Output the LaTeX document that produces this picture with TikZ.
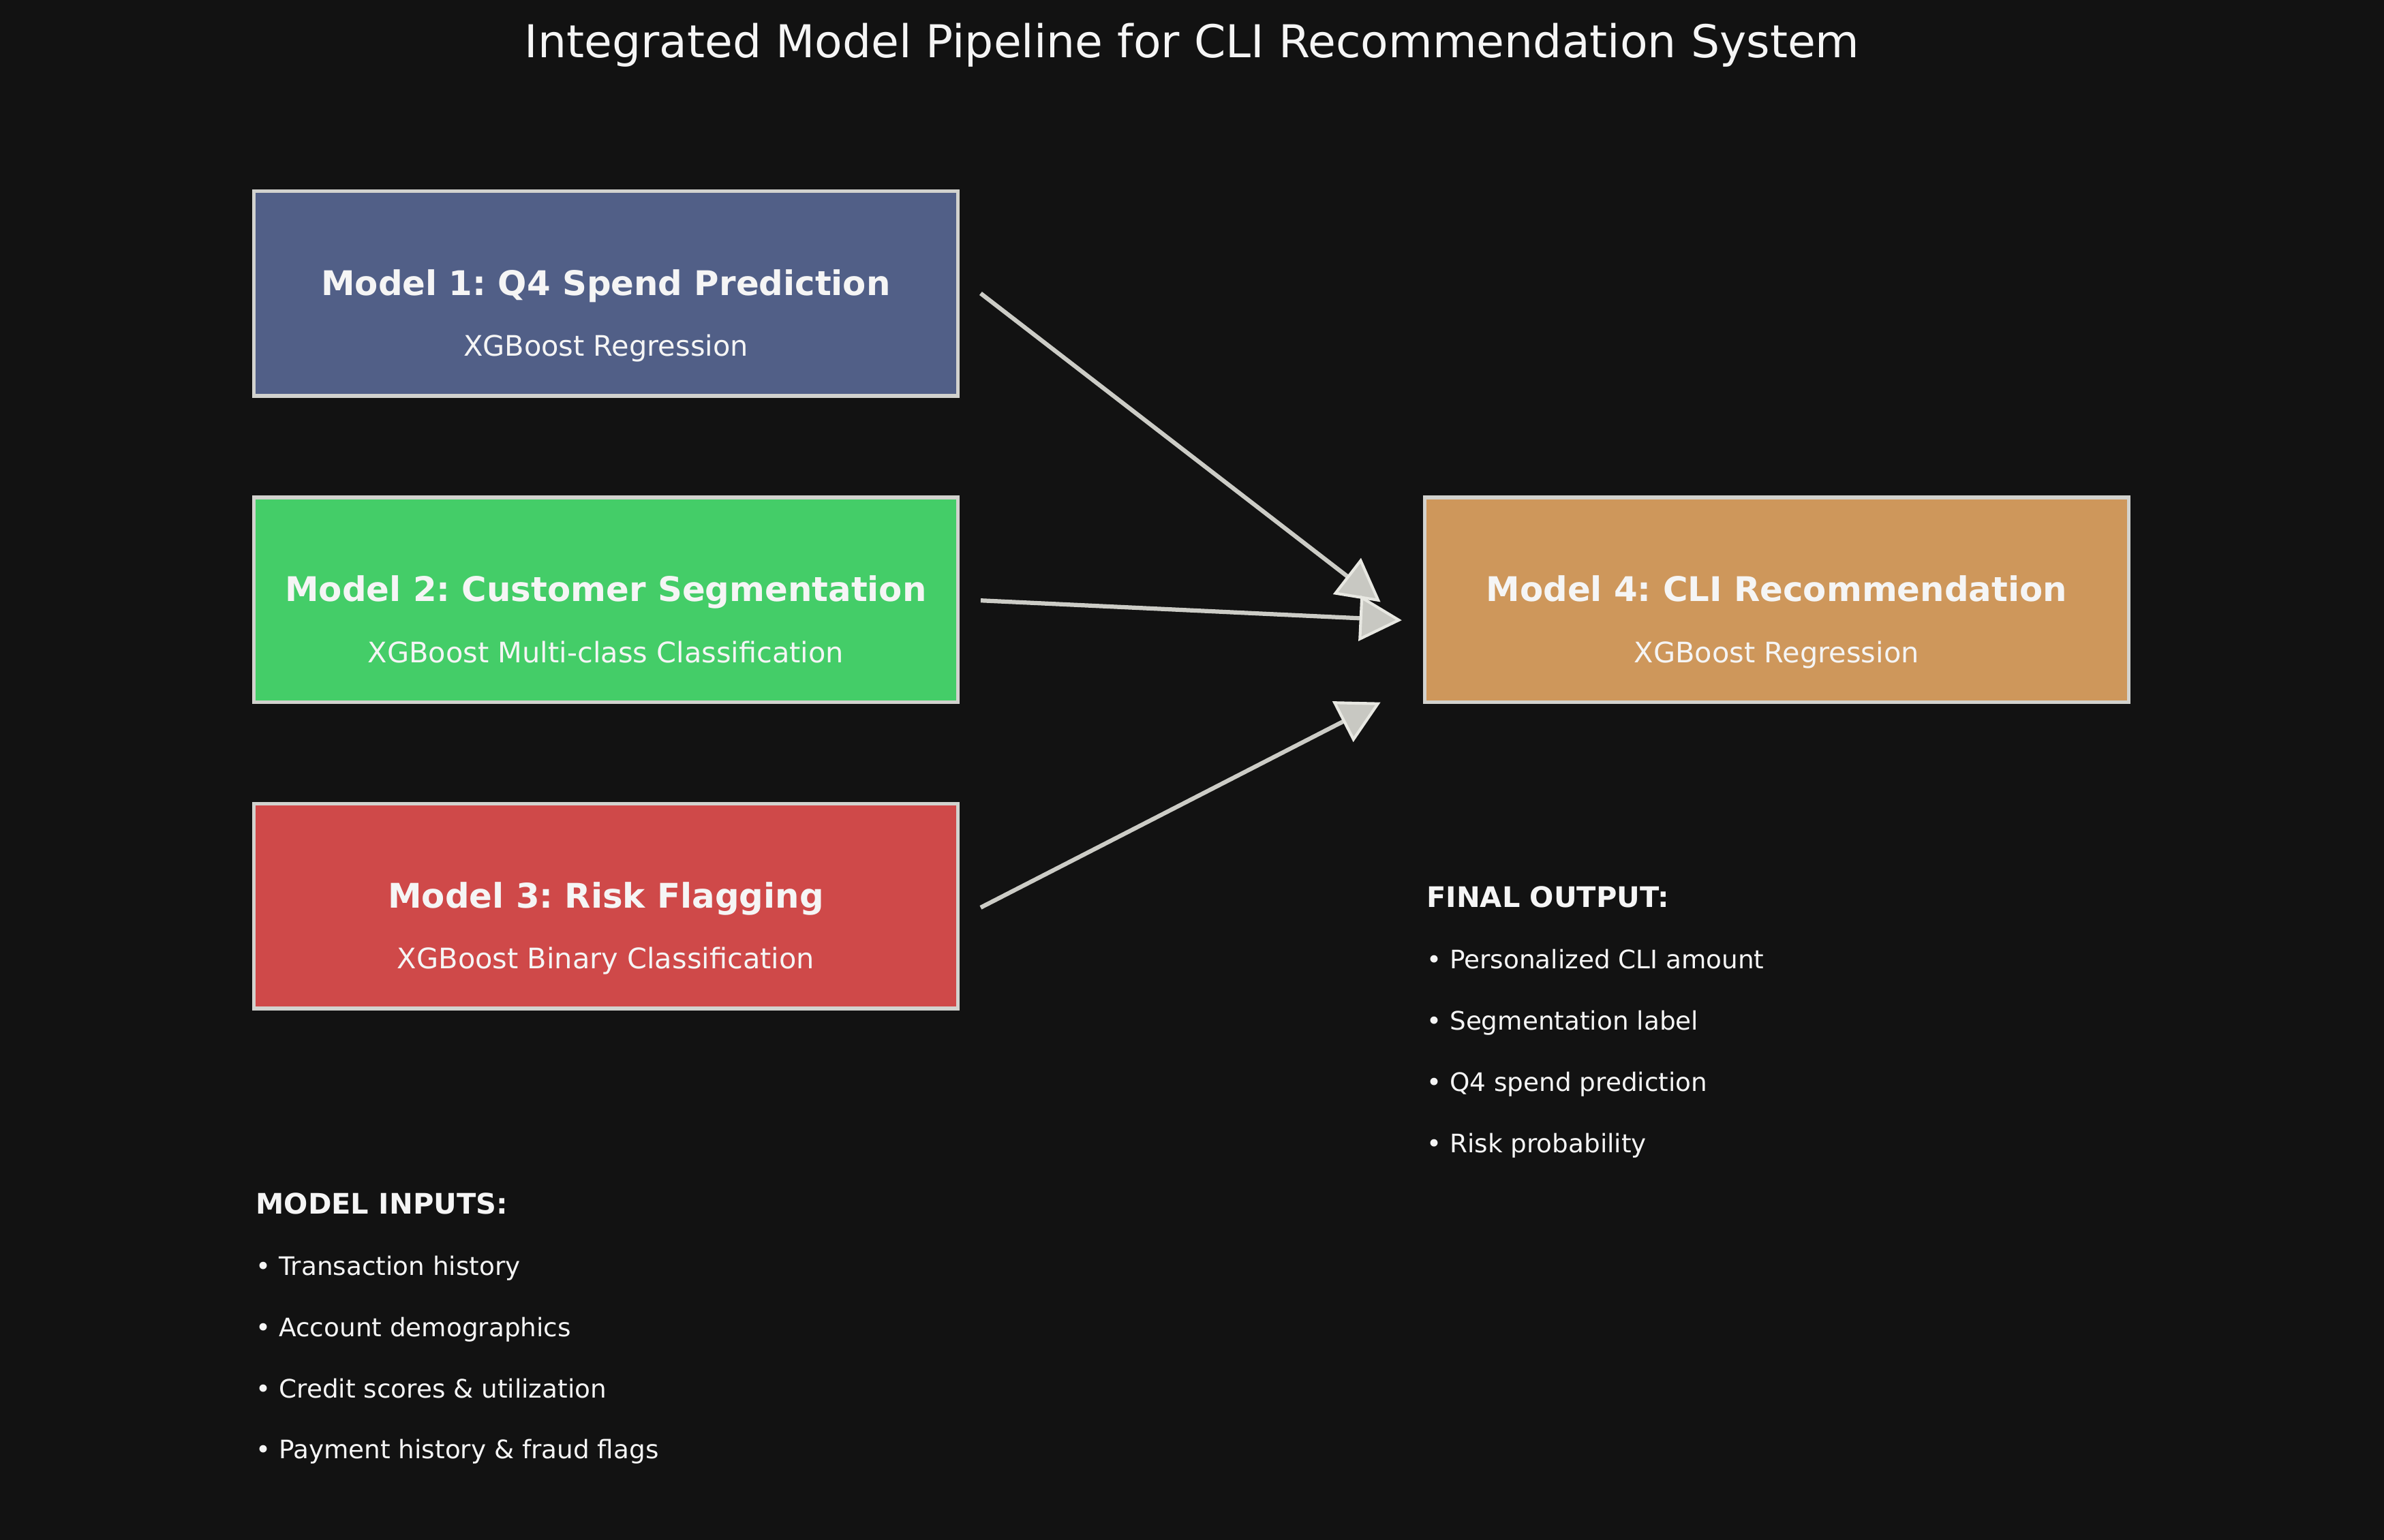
\documentclass[tikz,border=0pt]{standalone}
\usepackage{fontspec}
\setmainfont{DejaVu Sans}
\usetikzlibrary{arrows.meta}
\definecolor{bg}{RGB}{18,18,18}
\definecolor{cA}{RGB}{81,95,135}
\definecolor{cB}{RGB}{68,205,104}
\definecolor{cC}{RGB}{207,73,73}
\definecolor{cD}{RGB}{206,151,91}
\definecolor{edge}{RGB}{210,210,206}
\definecolor{txt}{RGB}{245,245,245}
\definecolor{arr}{RGB}{204,204,198}
\definecolor{headfill}{RGB}{200,200,194}
\definecolor{headedge}{RGB}{232,232,226}
\frenchspacing
\begin{document}
\begin{tikzpicture}[x=0.5375pt,y=-0.5375pt,
  modelbox/.style={draw=edge,line width=1.3pt,minimum width=248.9pt,minimum height=72.4pt,inner sep=0pt},
  boxtitle/.style={text=txt,font=\fontsize{12}{14}\selectfont\bfseries,inner sep=0pt,text height=9.1pt,text depth=2.9pt},
  boxsub/.style={text=txt,font=\fontsize{10}{12}\selectfont,inner sep=0pt,text height=7.6pt,text depth=2.4pt},
  listhead/.style={text=txt,font=\fontsize{10}{12}\selectfont\bfseries,anchor=west,inner sep=0pt,text height=7.6pt,text depth=2.4pt},
  listitem/.style={text=txt,font=\fontsize{9}{11}\selectfont,anchor=west,inner sep=0pt,text height=6.8pt,text depth=2.2pt},
  flow/.style={draw=arr,line width=1.5pt,-{Triangle[length=15pt,width=16pt,fill=headfill,color=headedge,line width=1pt]}}]
\fill[bg] (0,0) rectangle (1568,1013);
\useasboundingbox (0,0) rectangle (1568,1013);

\node[text=txt,font=\fontsize{16}{19}\selectfont,inner sep=0pt,text height=12.2pt,text depth=3.8pt] (title) at (784,30) {Integrated Model Pipeline for CLI Recommendation System};

\node[modelbox,fill=cA] (m1) at (398.5,193) {};
\node[modelbox,fill=cB] (m2) at (398.5,394.5) {};
\node[modelbox,fill=cC] (m3) at (398.5,596) {};
\node[modelbox,fill=cD] (m4) at (1168.5,394.5) {};

\node[boxtitle] (m1t) at (398.5,188.5) {Model 1: Q4 Spend Prediction};
\node[boxsub] (m1s) at (398.5,229.5) {XGBoost Regression};
\node[boxtitle] (m2t) at (398.5,390) {Model 2: Customer Segmentation};
\node[boxsub] (m2s) at (398.5,431) {XGBoost Multi-class Classification};
\node[boxtitle] (m3t) at (398.5,591.5) {Model 3: Risk Flagging};
\node[boxsub] (m3s) at (398.5,632.5) {XGBoost Binary Classification};
\node[boxtitle] (m4t) at (1168.5,390) {Model 4: CLI Recommendation};
\node[boxsub] (m4s) at (1168.5,431) {XGBoost Regression};

\coordinate (a1s) at (645,193);
\coordinate (a2s) at (645,395);
\coordinate (a3s) at (645,597);
\coordinate (a1e) at (908,396);
\coordinate (a2e) at (922,408);
\coordinate (a3e) at (908,462);
\draw[flow] (a1s) -- (a1e);
\draw[flow] (a2s) -- (a2e);
\draw[flow] (a3s) -- (a3e);

\node[listhead] (outh) at (938,592) {FINAL OUTPUT:};
\node[listitem] (o1) at (938,633) {• Personalized CLI amount};
\node[listitem] (o2) at (938,673.3) {• Segmentation label};
\node[listitem] (o3) at (938,713.6) {• Q4 spend prediction};
\node[listitem] (o4) at (938,753.9) {• Risk probability};

\node[listhead] (inh) at (168,793.5) {MODEL INPUTS:};
\node[listitem] (i1) at (168,834.5) {• Transaction history};
\node[listitem] (i2) at (168,874.8) {• Account demographics};
\node[listitem] (i3) at (168,915.1) {• Credit scores \& utilization};
\node[listitem] (i4) at (168,955.4) {• Payment history \& fraud flags};
\end{tikzpicture}
\end{document}
